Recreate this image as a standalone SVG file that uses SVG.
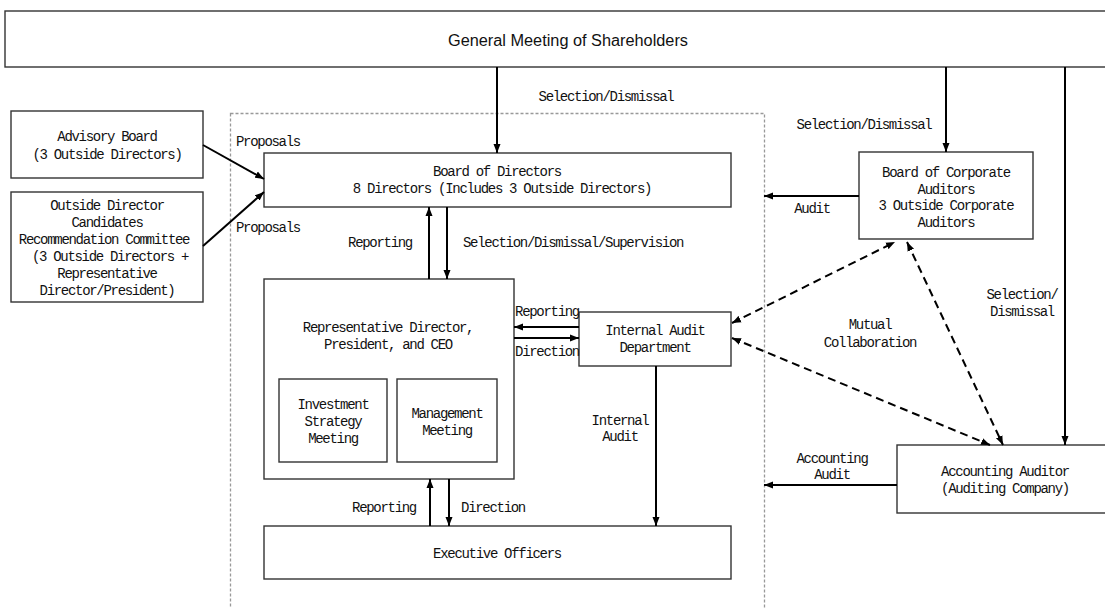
<svg xmlns="http://www.w3.org/2000/svg" width="1105" height="608" viewBox="0 0 1105 608">
<defs>
<marker id="ah" markerUnits="userSpaceOnUse" markerWidth="10" markerHeight="8" refX="9" refY="4" orient="auto-start-reverse" viewBox="0 0 10 8">
<path d="M0,0.5 L9,4 L0,7.5 z" fill="#000"/>
</marker>
<style>
.box{fill:#fff;stroke:#333;stroke-width:1.4}
.t{font-family:"Liberation Mono",monospace;font-size:14px;letter-spacing:-1.3px;fill:#111}
.c{text-anchor:middle}
.ln{stroke:#000;stroke-width:2;fill:none}
.dl{stroke:#000;stroke-width:2;fill:none;stroke-dasharray:8,5}
.frame{fill:none;stroke:#999;stroke-width:1.3;stroke-dasharray:3,2}
</style>
</defs>
<rect width="1105" height="608" fill="#fff"/>

<rect class="frame" x="230.5" y="113.5" width="534" height="520"/>

<g id="gm">
<rect class="box" x="5" y="11" width="1110" height="56"/>
<text x="568" y="46" text-anchor="middle" font-family="Liberation Sans,Arial,sans-serif" font-size="16" textLength="240" lengthAdjust="spacingAndGlyphs" fill="#111">General Meeting of Shareholders</text>
</g>

<g id="advisory">
<rect class="box" x="11" y="111" width="192" height="67"/>
<text class="t c" x="107" y="141">Advisory Board</text>
<text class="t c" x="107" y="159">(3 Outside Directors)</text>
</g>

<g id="nomination">
<rect class="box" x="11" y="192" width="192" height="110"/>
<text class="t c" x="107" y="210">Outside Director</text>
<text class="t c" x="107" y="227">Candidates</text>
<text class="t c" x="104" y="244">Recommendation Committee</text>
<text class="t c" x="110" y="261">(3 Outside Directors +</text>
<text class="t c" x="107" y="278">Representative</text>
<text class="t c" x="107" y="295">Director/President)</text>
</g>

<g id="bod">
<rect class="box" x="264" y="153" width="467" height="54"/>
<text class="t c" x="497" y="176">Board of Directors</text>
<text class="t c" x="502" y="193">8 Directors (Includes 3 Outside Directors)</text>
</g>

<g id="bca">
<rect class="box" x="859" y="152" width="174" height="87"/>
<text class="t c" x="946" y="177">Board of Corporate</text>
<text class="t c" x="946" y="194">Auditors</text>
<text class="t c" x="946" y="210">3 Outside Corporate</text>
<text class="t c" x="946" y="227">Auditors</text>
</g>

<g id="ceo">
<rect class="box" x="264" y="279" width="250" height="200"/>
<text class="t c" x="388" y="332">Representative Director,</text>
<text class="t c" x="388" y="349">President, and CEO</text>
</g>

<g id="investment">
<rect class="box" x="279" y="379" width="108" height="83"/>
<text class="t c" x="333" y="409">Investment</text>
<text class="t c" x="333" y="426">Strategy</text>
<text class="t c" x="333" y="443">Meeting</text>
</g>

<g id="management">
<rect class="box" x="397" y="379" width="100" height="83"/>
<text class="t c" x="447" y="418">Management</text>
<text class="t c" x="447" y="435">Meeting</text>
</g>

<g id="internal-audit">
<rect class="box" x="579" y="312" width="152" height="54"/>
<text class="t c" x="655" y="335">Internal Audit</text>
<text class="t c" x="655" y="352">Department</text>
</g>

<g id="executive">
<rect class="box" x="264" y="526" width="467" height="53"/>
<text class="t c" x="497" y="558">Executive Officers</text>
</g>

<g id="accounting-auditor">
<rect class="box" x="897" y="445" width="220" height="68"/>
<text class="t c" x="1005" y="476">Accounting Auditor</text>
<text class="t c" x="1005" y="493">(Auditing Company)</text>
</g>

<g id="connectors">
<line class="ln" x1="497" y1="67" x2="497" y2="153" marker-end="url(#ah)"/>
<line class="ln" x1="946" y1="67" x2="946" y2="152" marker-end="url(#ah)"/>
<line class="ln" x1="1065" y1="67" x2="1065" y2="445" marker-end="url(#ah)"/>
<line class="ln" x1="203" y1="145" x2="264" y2="179" marker-end="url(#ah)"/>
<line class="ln" x1="203" y1="246" x2="264" y2="192" marker-end="url(#ah)"/>
<line class="ln" x1="429" y1="279" x2="429" y2="207" marker-end="url(#ah)"/>
<line class="ln" x1="447" y1="207" x2="447" y2="279" marker-end="url(#ah)"/>
<line class="ln" x1="579" y1="327" x2="514" y2="327" marker-end="url(#ah)"/>
<line class="ln" x1="514" y1="338" x2="579" y2="338" marker-end="url(#ah)"/>
<line class="ln" x1="656" y1="366" x2="656" y2="526" marker-end="url(#ah)"/>
<line class="ln" x1="430" y1="526" x2="430" y2="479" marker-end="url(#ah)"/>
<line class="ln" x1="449" y1="479" x2="449" y2="526" marker-end="url(#ah)"/>
<line class="ln" x1="859" y1="196" x2="764" y2="196" marker-end="url(#ah)"/>
<line class="ln" x1="897" y1="485" x2="764" y2="485" marker-end="url(#ah)"/>
<line class="dl" x1="732" y1="323" x2="895" y2="242" marker-start="url(#ah)" marker-end="url(#ah)"/>
<line class="dl" x1="732" y1="338" x2="990" y2="445" marker-start="url(#ah)" marker-end="url(#ah)"/>
<line class="dl" x1="907" y1="242" x2="1003" y2="445" marker-start="url(#ah)" marker-end="url(#ah)"/>

<text class="t c" x="606" y="101">Selection/Dismissal</text>
<text class="t c" x="864" y="129">Selection/Dismissal</text>
<text class="t" x="236" y="146">Proposals</text>
<text class="t" x="236" y="232">Proposals</text>
<text class="t c" x="380" y="247">Reporting</text>
<text class="t" x="463" y="247">Selection/Dismissal/Supervision</text>
<text class="t c" x="812" y="213">Audit</text>
<text class="t c" x="547" y="316">Reporting</text>
<text class="t c" x="547" y="356">Direction</text>
<text class="t c" x="620" y="425">Internal</text>
<text class="t c" x="620" y="441">Audit</text>
<text class="t c" x="870" y="329">Mutual</text>
<text class="t c" x="870" y="347">Collaboration</text>
<text class="t c" x="1022" y="299">Selection/</text>
<text class="t c" x="1022" y="316">Dismissal</text>
<text class="t c" x="832" y="463">Accounting</text>
<text class="t c" x="832" y="479">Audit</text>
<text class="t c" x="384" y="512">Reporting</text>
<text class="t c" x="493" y="512">Direction</text>
</g>
</svg>
